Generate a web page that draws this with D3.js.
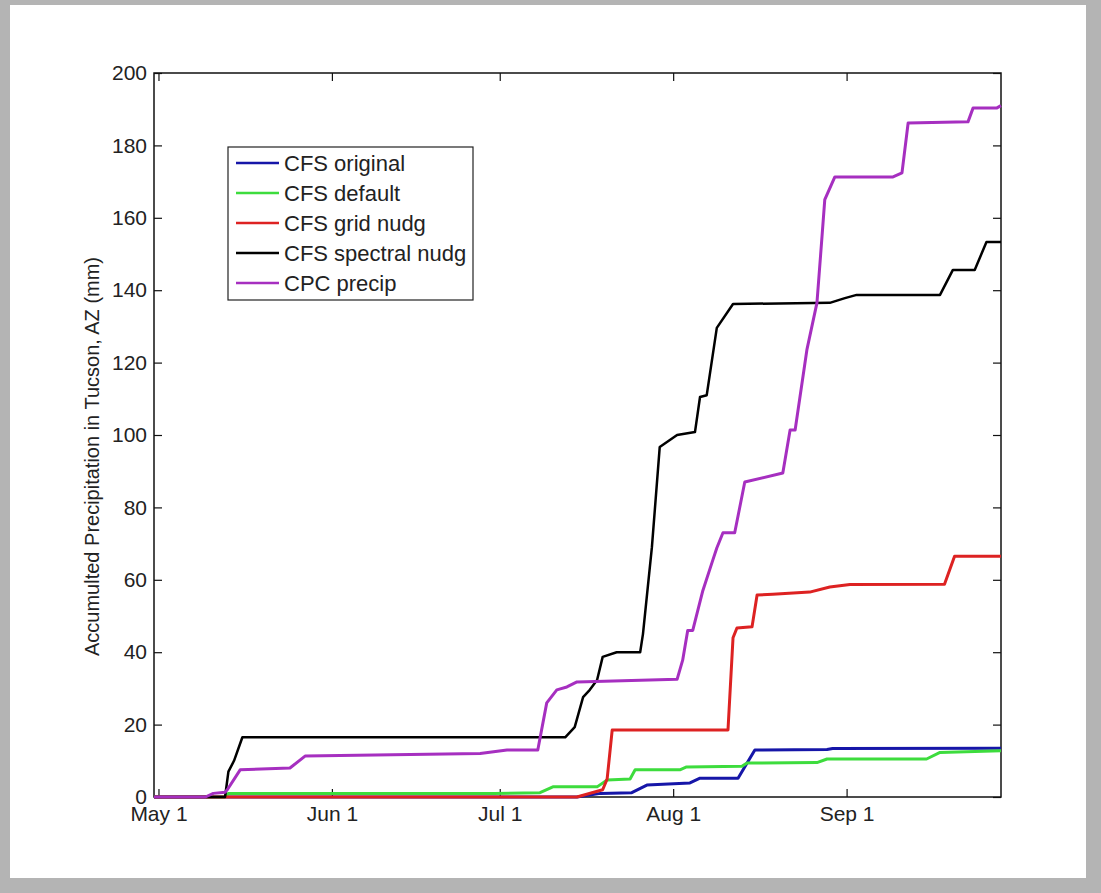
<!DOCTYPE html>
<html>
<head>
<meta charset="utf-8">
<script src="https://cdn.jsdelivr.net/npm/d3@7/dist/d3.min.js"></script>
<style>
  body { margin: 0; background: #b4b4b4; }
  svg { display: block; }
  text { font-family: "Liberation Sans", Arial, Helvetica, sans-serif; fill: #222; }
</style>
</head>
<body>
<div id="chart"></div>
<script>
// days are counted from May 1 (day 0)
const tickDays = [0, 31, 61, 92, 123];
const tickLabels = ["May 1", "Jun 1", "Jul 1", "Aug 1", "Sep 1"];
const yTicks = [0, 20, 40, 60, 80, 100, 120, 140, 160, 180, 200];

const seriesNames = ["CFS original", "CFS default", "CFS grid nudg", "CFS spectral nudg", "CPC precip"];
const seriesColors = ["#1616a8", "#3ddc3d", "#dd2222", "#000000", "#a62fc0"];

const origDays = [-0.8, 74.8, 79, 84.6, 87.3, 95, 96.8, 103.6, 106.6, 119.5, 120.5, 150.6];
const origVals = [0, 0, 1, 1.2, 3.3, 3.9, 5.2, 5.2, 13, 13.1, 13.4, 13.5];

const defDays = [-0.8, 11.9, 12.5, 60, 68.2, 70.5, 78.4, 80.2, 84.3, 85.2, 93.2, 94.4, 104.3, 105.2, 117.7, 119.5, 137.3, 139.7, 150.6];
const defVals = [0, 0, 1, 1, 1.2, 2.8, 2.8, 4.7, 5, 7.5, 7.5, 8.3, 8.5, 9.4, 9.5, 10.5, 10.5, 12.3, 12.8];

const gridDays = [-0.8, 74.8, 79.4, 80.2, 81.1, 101.8, 102.7, 103.4, 106.1, 107, 109.8, 116.4, 120, 123.6, 140.5, 142.3, 150.6];
const gridVals = [0, 0, 2, 5, 18.5, 18.5, 44, 46.7, 47, 55.8, 56, 56.6, 58, 58.7, 58.8, 66.5, 66.5];

const specDays = [-0.8, 11.9, 12.5, 13.5, 15, 72.7, 74.4, 75.9, 77.1, 78.4, 79.4, 81.9, 86.1, 86.6, 88.2, 89.6, 92.7, 95.9, 96.8, 98.0, 99.8, 102.7, 120, 122.7, 124.8, 139.7, 142, 145.9, 148, 150.6];
const specVals = [0, 0, 7, 10, 16.5, 16.5, 19.3, 27.6, 29.6, 32.3, 38.7, 40, 40, 45, 69, 96.7, 100, 100.8, 110.5, 111, 129.6, 136.2, 136.5, 137.8, 138.7, 138.7, 145.6, 145.6, 153.3, 153.3];

const cpcDays = [-0.8, 8.4, 9.8, 11.9, 12.3, 14.6, 23.5, 26.2, 57.5, 62.3, 67.8, 69.4, 71.2, 73.0, 74.8, 92.7, 93.7, 94.6, 95.5, 97.3, 99.1, 99.8, 100.9, 103, 104.8, 111.6, 112.9, 113.8, 115.9, 117.7, 118.6, 119.1, 120.9, 131.3, 132.9, 134, 144.7, 145.6, 149.8, 150.6];
const cpcVals = [0, 0, 1, 1.3, 2, 7.5, 8, 11.3, 12, 13, 13, 26, 29.6, 30.4, 31.8, 32.5, 37.8, 46, 46, 57, 65.5, 68.8, 73, 73, 87, 89.5, 101.4, 101.4, 123.5, 136.5, 154.7, 165, 171.3, 171.3, 172.4, 186.2, 186.5, 190.3, 190.3, 191];

const seriesDays = [origDays, defDays, gridDays, specDays, cpcDays];
const seriesVals = [origVals, defVals, gridVals, specVals, cpcVals];

const W = 1101, H = 893;
const margin = {left: 154, top: 73, right: 100, bottom: 96};
const innerW = W - margin.left - margin.right,
      innerH = H - margin.top - margin.bottom;

const svg = d3.select("#chart").append("svg")
    .attr("width", W)
    .attr("height", H);

// white figure area inside the grey frame
svg.append("rect")
    .attr("x", 10).attr("y", 5)
    .attr("width", 1076).attr("height", 873)
    .attr("fill", "#fff");

const g = svg.append("g")
    .attr("transform", `translate(${ margin.left }, ${ margin.top })`);

const x = d3.scaleLinear().domain([-0.8, 150.6]).range([0, innerW]);
const y = d3.scaleLinear().domain([0, 200]).range([innerH, 0]);

const tickLen = 8;
const fmt = (d, i) => tickLabels[i];

// axes, ticks pointing inward on all four sides
g.append("g")
    .attr("transform", `translate(0, ${ innerH })`)
    .call(d3.axisBottom(x).tickValues(tickDays).tickFormat(fmt).tickSizeInner(-tickLen).tickSizeOuter(0).tickPadding(9));
g.append("g")
    .call(d3.axisTop(x).tickValues(tickDays).tickFormat("").tickSizeInner(-tickLen).tickSizeOuter(0));
g.append("g")
    .call(d3.axisLeft(y).tickValues(yTicks).tickSizeInner(-tickLen).tickSizeOuter(0).tickPadding(7));
g.append("g")
    .attr("transform", `translate(${ innerW }, 0)`)
    .call(d3.axisRight(y).tickValues(yTicks).tickFormat("").tickSizeInner(-tickLen).tickSizeOuter(0));

g.selectAll(".domain").remove();
g.selectAll(".tick line").attr("stroke", "#111").attr("stroke-width", 1.2);
g.selectAll(".tick text").attr("font-size", 21).attr("fill", "#222");

g.append("rect")
    .attr("width", innerW).attr("height", innerH)
    .attr("fill", "none")
    .attr("stroke", "#111")
    .attr("stroke-width", 1.5);

// y label
svg.append("text")
    .attr("transform", `translate(99, 656) rotate(-90)`)
    .attr("font-size", 20)
    .text("Accumulted Precipitation in Tucson, AZ (mm)");

// series
const line = d3.line()
    .x((d) => x(d[0]))
    .y((d) => y(d[1]));

const plot = g.append("g");
seriesNames.forEach((name, i) => {
  const pts = seriesDays[i].map((d, j) => [d, seriesVals[i][j]]);
  plot.append("path")
      .datum(pts)
      .attr("fill", "none")
      .attr("stroke", seriesColors[i])
      .attr("stroke-width", i == 3 ? 2.5 : 3)
      .attr("stroke-linejoin", "round")
      .attr("d", line);
});

// legend
const leg = svg.append("g").attr("transform", "translate(228, 147)");
leg.append("rect")
    .attr("width", 245).attr("height", 153)
    .attr("fill", "#fff")
    .attr("stroke", "#222")
    .attr("stroke-width", 1.2);

seriesNames.forEach((name, i) => {
  let ly = 16 + i * 30;
  leg.append("line")
      .attr("x1", 8).attr("x2", 51)
      .attr("y1", ly).attr("y2", ly)
      .attr("stroke", seriesColors[i])
      .attr("stroke-width", 2.5);
  leg.append("text")
      .attr("x", 56).attr("y", ly)
      .attr("dy", ".35em")
      .attr("font-size", 22)
      .text(name);
});
</script>
</body>
</html>
